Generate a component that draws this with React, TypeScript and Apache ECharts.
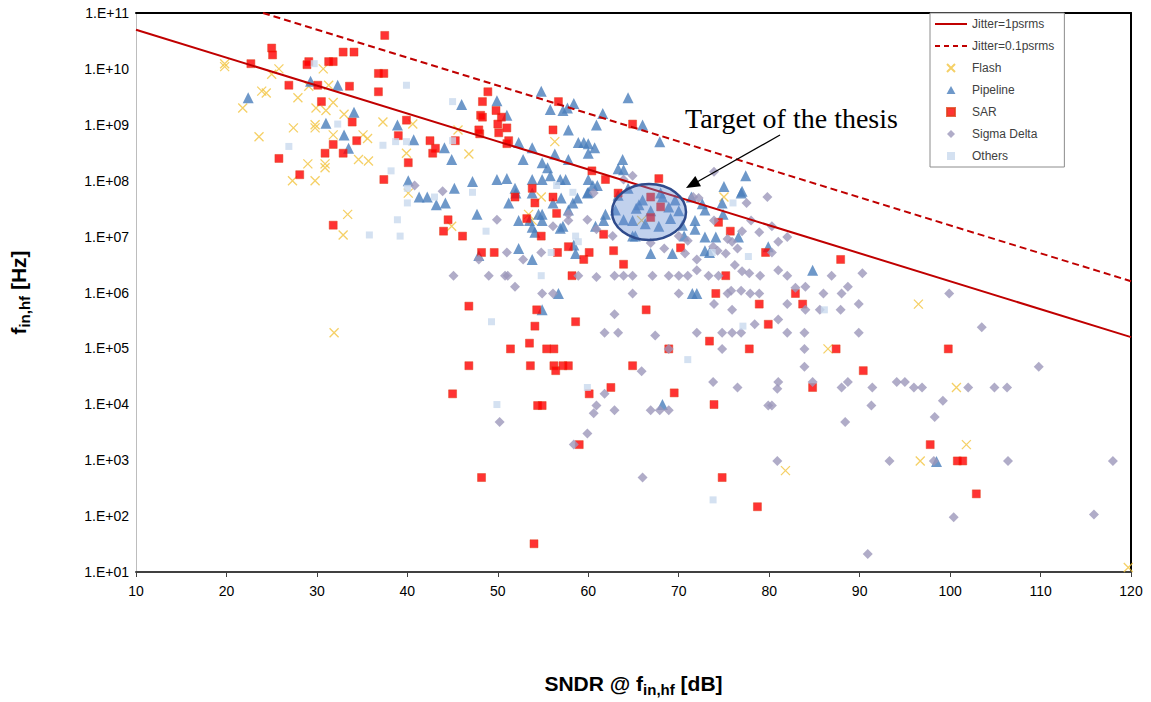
import React, { useEffect, useRef } from "react";
import * as echarts from "echarts";

// [SNDR dB, f_in,hf Hz]
const JITTER_1PS: [number, number][] = [[10, 5.03e10], [120, 1.59e5]];
const JITTER_01PS: [number, number][] = [[24.04, 1e11], [120, 1.59e6]];

const FLASH: [number, number][] = [
  [19.8, 1.24e10], [19.8, 1.1e10], [23.9, 4.0e9], [24.4, 3.7e9], [21.8, 2.0e9], [25.8, 1.0e10],
  [25.0, 8.0e9], [27.9, 3.05e9], [29.9, 2.0e9], [31.0, 1.8e9], [31.8, 2.5e9], [33.0, 1.54e9],
  [23.6, 6.1e8], [27.4, 8.8e8], [29.8, 1.0e9], [29.8, 8.8e8], [31.8, 6.6e8], [35.1, 6.6e8],
  [35.6, 5.7e8], [37.3, 1.12e9], [29.0, 2.0e8], [30.9, 2.0e8], [30.9, 1.7e8], [34.6, 2.4e8],
  [35.7, 2.25e8], [27.3, 1.0e8], [29.8, 1.0e8], [30.7, 1.0e10], [31.3, 5.1e9], [29.1, 4.9e9],
  [40.6, 1.03e9], [39.9, 3.1e8], [46.8, 3.0e8], [45.6, 8.1e8], [56.3, 5.0e8], [33.4, 2.5e7],
  [32.9, 1.07e7], [31.9, 1.9e5], [40.1, 6.0e7], [44.9, 1.53e7], [53.4, 2.5e7], [53.8, 1.95e7],
  [54.8, 5.1e7], [75.0, 5.1e7], [65.9, 1.95e7], [86.5, 9.8e4], [96.5, 6.2e5], [81.8, 650],
  [100.7, 2.0e4], [101.8, 1.9e3], [96.7, 970], [119.7, 12],
];

const PIPELINE: [number, number][] = [
  [22.4, 3.05e9], [29.3, 6.0e9], [32.3, 5.1e9], [34.1, 1.67e9], [31.0, 1.07e9], [33.0, 6.6e8],
  [33.5, 3.8e8], [54.8, 4.0e9], [46.0, 2.3e9], [49.9, 2.7e9], [51.0, 1.48e9], [55.8, 1.88e9],
  [57.2, 1.8e9], [57.7, 2.0e9], [58.4, 2.4e9], [61.6, 1.6e9], [60.9, 9.9e8], [57.8, 8.1e8],
  [38.9, 9.9e8], [40.7, 5.4e8], [44.1, 3.9e8], [44.9, 2.4e8], [52.3, 4.8e8], [53.8, 3.9e8],
  [52.8, 2.4e8], [54.9, 2.1e8], [55.5, 1.7e8], [55.8, 1.23e8], [56.3, 3.0e8], [57.8, 2.4e8],
  [58.9, 4.8e8], [59.5, 4.8e8], [60.0, 4.6e8], [60.7, 3.9e8], [60.0, 3.1e8], [63.8, 2.4e8],
  [63.3, 1.63e8], [63.9, 1.57e8], [40.1, 1.0e8], [45.2, 7.3e7], [47.2, 9.7e7], [49.9, 1.05e8],
  [51.0, 1.09e8], [51.9, 7.3e7], [53.8, 1.05e8], [54.9, 1.05e8], [56.9, 1.05e8], [57.5, 1.05e8],
  [60.0, 1.05e8], [60.5, 8.2e7], [61.0, 8.2e7], [60.0, 6.2e7], [66.0, 9.9e8], [67.9, 5.0e8],
  [77.4, 1.23e8], [75.0, 7.9e7], [77.0, 6.5e7], [64.4, 3.05e9], [41.3, 5.1e7], [42.2, 5.1e7],
  [43.2, 3.7e7], [44.2, 4.0e7], [47.7, 2.5e7], [51.2, 4.0e7], [52.3, 1.95e7], [53.5, 1.95e7],
  [53.8, 1.47e7], [54.1, 1.2e7], [54.5, 2.5e7], [54.9, 2.5e7], [54.9, 1.95e7], [56.1, 4.0e7],
  [57.0, 4.9e7], [57.8, 3.0e7], [58.3, 4.0e7], [58.8, 4.9e7], [57.2, 1.53e7], [56.9, 1.41e7],
  [59.9, 6.0e7], [53.8, 6.0e7], [52.0, 6.0e7], [52.3, 6.1e6], [53.8, 3.9e6], [47.9, 4.6e6],
  [58.4, 7.1e6], [58.6, 5.0e6], [56.7, 9.6e5], [54.9, 4.9e5], [61.9, 2.5e7], [60.8, 1.53e7],
  [61.7, 1.95e7], [63.0, 3.0e7], [64.9, 1.95e7], [64.9, 1.02e7], [66.0, 4.5e7], [68.2, 5.1e7],
  [69.6, 4.5e7], [70.0, 2.9e7], [71.4, 5.1e7], [72.9, 3.0e7], [72.6, 3.85e7], [74.8, 4.0e7],
  [74.9, 2.5e7], [76.9, 6.0e7], [71.8, 1.95e7], [71.8, 1.36e7], [70.4, 1.6e7], [70.6, 1.02e7],
  [72.9, 9.8e6], [74.1, 9.8e6], [76.6, 9.8e6], [79.9, 6.6e6], [66.9, 5.0e6], [69.3, 5.0e6],
  [72.9, 5.6e6], [73.4, 5.2e6], [65.2, 1.02e7], [84.8, 2.5e6], [71.5, 9.6e5], [72.0, 9.6e5],
  [63.3, 5.5e7], [64.4, 7.3e7], [65.6, 3.7e7], [66.9, 2.9e7], [68.0, 6.0e7], [68.9, 3.4e7],
  [63.9, 2.0e7], [66.3, 1.7e7], [67.8, 1.53e7], [69.1, 2.1e7], [65.3, 3.2e7], [68.2, 9.9e3],
  [98.5, 950],
];

const SAR: [number, number][] = [
  [25.0, 2.36e10], [25.1, 1.78e10], [22.7, 1.24e10], [29.1, 1.35e10], [28.9, 1.19e10], [31.3, 1.35e10],
  [31.8, 1.35e10], [32.9, 2.0e10], [34.1, 2.0e10], [37.5, 3.97e10], [36.8, 8.3e9], [37.4, 8.3e9],
  [36.8, 3.9e9], [26.9, 5.1e9], [30.1, 5.1e9], [33.6, 4.9e9], [30.5, 2.6e9], [33.9, 1.12e9],
  [34.4, 5.2e8], [31.8, 4.45e8], [30.9, 3.1e8], [32.9, 3.1e8], [25.8, 2.5e8], [28.1, 1.28e8],
  [37.4, 1.05e8], [48.9, 3.9e9], [48.3, 2.6e9], [48.1, 1.48e9], [48.3, 1.37e9], [49.8, 1.8e9],
  [50.4, 1.37e9], [50.0, 1.03e9], [51.0, 8.8e8], [50.1, 7.2e8], [48.0, 6.9e8], [47.9, 8.1e8],
  [51.2, 5.2e8], [51.0, 4.6e8], [56.1, 8.1e8], [56.7, 2.6e9], [39.9, 1.21e9], [39.0, 6.4e8],
  [42.5, 5.2e8], [43.1, 3.8e8], [42.8, 3.1e8], [45.3, 5.2e8], [40.1, 2.1e8], [60.4, 1.5e8],
  [61.9, 1.05e8], [64.9, 1.03e9], [53.8, 7.3e7], [67.8, 1.09e8], [31.8, 1.6e7], [51.9, 5.1e7],
  [54.1, 4.0e7], [56.1, 5.1e7], [53.2, 2.1e7], [56.5, 2.6e7], [54.8, 1.02e7], [44.5, 2.0e7],
  [44.0, 1.25e7], [46.1, 1.02e7], [48.2, 5.2e6], [49.6, 5.2e6], [56.6, 5.2e6], [57.8, 6.6e6],
  [59.5, 3.9e6], [60.1, 5.2e6], [61.7, 1.1e7], [62.8, 5.6e6], [63.9, 3.2e6], [58.2, 2.0e6],
  [46.8, 5.7e5], [54.3, 4.9e5], [58.6, 3.0e5], [54.1, 2.5e5], [53.5, 1.24e5], [51.4, 9.8e4],
  [55.4, 9.8e4], [56.2, 9.8e4], [46.8, 4.9e4], [53.6, 4.9e4], [56.2, 4.9e4], [57.2, 4.9e4],
  [57.8, 4.9e4], [56.4, 4.0e4], [64.9, 4.9e4], [63.3, 6.0e7], [66.9, 5.1e7], [68.0, 3.4e7],
  [66.9, 2.2e7], [74.4, 1.8e7], [75.7, 1.25e7], [70.2, 6.3e6], [79.6, 5.2e6], [87.9, 3.9e6],
  [75.2, 2.0e6], [74.1, 9.6e5], [82.9, 9.6e5], [78.9, 6.2e5], [83.7, 6.2e5], [66.4, 4.9e5],
  [79.9, 2.7e5], [73.4, 1.35e5], [68.9, 9.8e4], [77.8, 9.8e4], [87.4, 9.8e4], [90.4, 4.0e4],
  [99.8, 9.8e4], [45.0, 1.54e4], [54.4, 9.5e3], [54.9, 9.5e3], [60.1, 1.54e4], [62.5, 2.0e4],
  [59.0, 1.9e3], [48.2, 490], [54.0, 32], [69.5, 1.6e4], [73.9, 9.9e3], [84.8, 2.0e4],
  [74.8, 490], [78.7, 147], [97.8, 1.9e3], [100.8, 970], [101.4, 970], [102.9, 250],
];

const SIGMA_DELTA: [number, number][] = [
  [40.8, 8.2e7], [43.9, 6.5e7], [63.9, 1.05e8], [64.9, 1.23e8], [73.9, 1.45e8], [49.9, 2.0e7],
  [56.1, 1.53e7], [57.8, 2.5e7], [57.8, 1.95e7], [59.9, 2.0e7], [60.6, 6.0e7], [52.8, 3.9e6],
  [51.0, 5.2e6], [54.8, 5.2e6], [47.9, 3.9e6], [45.1, 2.0e6], [49.0, 2.0e6], [50.8, 2.0e6],
  [51.1, 2.0e6], [51.9, 1.27e6], [54.9, 9.6e5], [56.1, 9.6e5], [58.9, 2.0e6], [60.9, 1.9e6],
  [62.9, 2.0e6], [63.9, 2.0e6], [64.9, 2.0e6], [64.9, 9.6e5], [62.9, 4.1e5], [61.8, 1.9e5],
  [63.3, 1.9e5], [60.9, 1.36e7], [62.7, 1.02e7], [79.8, 5.1e7], [77.5, 4.0e7], [71.6, 5.1e7],
  [72.2, 4.9e7], [73.9, 1.95e7], [78.0, 1.95e7], [80.3, 1.53e7], [77.0, 1.25e7], [78.9, 1.2e7],
  [82.0, 9.8e6], [81.0, 8.1e6], [75.4, 9.1e6], [75.9, 8.1e6], [70.0, 1.02e7], [71.0, 8.4e6],
  [66.9, 7.7e6], [68.4, 6.1e6], [70.7, 5.0e6], [73.8, 6.6e6], [74.3, 5.6e6], [75.2, 5.0e6],
  [76.5, 6.1e6], [80.3, 5.2e6], [72.0, 3.9e6], [76.2, 3.1e6], [77.0, 2.4e6], [77.8, 2.2e6],
  [72.0, 2.5e6], [81.0, 2.5e6], [82.0, 2.0e6], [67.1, 2.0e6], [68.9, 2.0e6], [70.0, 2.0e6],
  [71.0, 2.0e6], [73.3, 2.0e6], [74.4, 2.0e6], [79.0, 2.0e6], [86.9, 2.0e6], [90.3, 2.2e6],
  [82.9, 1.22e6], [84.0, 1.27e6], [88.7, 1.27e6], [70.0, 9.6e5], [75.4, 9.6e5], [75.8, 1.08e6],
  [76.9, 1.08e6], [77.9, 9.6e5], [78.9, 9.6e5], [86.0, 9.6e5], [88.0, 9.6e5], [73.9, 6.2e5],
  [75.9, 4.9e5], [82.0, 6.2e5], [84.0, 4.9e5], [85.6, 4.9e5], [87.9, 4.9e5], [89.9, 6.2e5],
  [81.0, 3.3e5], [78.4, 2.7e5], [72.0, 1.9e5], [74.8, 1.9e5], [75.9, 1.9e5], [76.9, 1.9e5],
  [82.0, 1.9e5], [83.9, 1.9e5], [89.9, 1.9e5], [67.4, 1.7e5], [68.9, 9.8e4], [74.8, 9.8e4],
  [83.9, 9.8e4], [83.9, 4.7e4], [65.9, 3.9e4], [73.8, 2.5e4], [81.0, 2.5e4], [84.8, 2.5e4],
  [88.7, 2.5e4], [99.9, 9.6e5], [103.5, 2.4e5], [109.8, 4.7e4], [94.1, 2.5e4], [95.0, 2.5e4],
  [50.2, 4.8e3], [61.8, 1.54e4], [60.9, 9.5e3], [60.6, 6.9e3], [62.9, 7.8e3], [59.9, 3.0e3],
  [58.4, 1.9e3], [76.5, 2.0e4], [80.9, 1.9e4], [88.0, 2.0e4], [91.4, 2.0e4], [91.3, 9.5e3],
  [88.4, 4.8e3], [66.9, 7.8e3], [67.9, 7.8e3], [68.9, 7.8e3], [79.9, 9.5e3], [80.3, 9.5e3],
  [80.9, 970], [66.0, 490], [90.9, 21], [96.0, 2.0e4], [96.9, 2.0e4], [102.0, 2.0e4],
  [104.9, 2.0e4], [106.3, 2.0e4], [99.2, 1.16e4], [98.3, 5.9e3], [93.3, 970], [98.2, 970],
  [106.4, 970], [118.0, 970], [100.4, 95], [115.9, 107],
];

const OTHERS: [number, number][] = [
  [29.7, 1.24e10], [32.3, 1.03e9], [26.9, 4.1e8], [37.3, 4.3e8], [39.9, 5.1e9], [45.0, 2.6e9],
  [38.7, 5.0e8], [39.9, 5.0e8], [45.0, 5.2e8], [38.2, 1.5e8], [40.0, 7.3e7], [47.2, 6.2e7],
  [56.5, 8.2e7], [58.3, 6.2e7], [35.8, 1.07e7], [38.9, 2.0e7], [39.2, 1.02e7], [40.0, 4.0e7],
  [43.0, 5.1e7], [48.7, 1.25e7], [54.8, 2.0e6], [55.9, 5.2e6], [58.6, 1.02e7], [58.9, 8.1e6],
  [49.3, 3.0e5], [76.0, 4.0e7], [77.7, 4.4e6], [73.7, 5.2e6], [86.1, 4.9e5], [77.1, 2.5e5],
  [71.0, 6.3e4], [49.9, 9.9e3], [59.9, 2.0e4], [73.8, 195],
];

const X_RANGE = [10, 120];
const Y_RANGE = [10, 1e11];

const SANS = "'Liberation Sans', Arial, sans-serif";
const SERIF = "'Liberation Serif', 'Times New Roman', serif";

const ICON_SOLID = "path://M0,0H32V2H0Z";
const ICON_DASH = "path://M0,0H5V2H0Z M9,0H14V2H9Z M18,0H23V2H18Z M27,0H32V2H27Z";
const ICON_CROSS = "path://M0,0L10,10M0,10L10,0";
const ICON_TRI = "path://M5,0L10,9L0,9Z";
const ICON_SQ = "path://M0,0H10V10H0Z";
const ICON_DIA = "path://M5,0L10,5L5,10L0,5Z";

export default function App() {
  const ref = useRef<HTMLDivElement>(null);
  useEffect(() => {
    const chart = echarts.init(ref.current!, null, { renderer: "svg" });
    const hidden = { show: false };
    const yFmt = (v: number) => {
      const e = Math.round(Math.log10(v));
      return "1.E+" + String(e).padStart(2, "0");
    };
    const titleRich = {
      a: { fontSize: 21, fontWeight: "bold", fontFamily: SANS, color: "#000", lineHeight: 27 },
      b: { fontSize: 15, fontWeight: "bold", fontFamily: SANS, color: "#000", lineHeight: 12, verticalAlign: "bottom" },
    };
    const option: any = {
      animation: false,
      backgroundColor: "#ffffff",
      grid: { left: 135, top: 13, right: 20, bottom: 115 },
      legend: {
        left: 930,
        top: 13,
        orient: "vertical",
        padding: [4, 10, 4, 5],
        itemWidth: 32,
        itemHeight: 8,
        itemGap: 8,
        symbolKeepAspect: true,
        borderColor: "#8c8c8c",
        borderWidth: 1,
        backgroundColor: "#ffffff",
        textStyle: { fontSize: 12, color: "#404040", fontFamily: SANS, lineHeight: 14 },
        data: [
          { name: "Jitter=1psrms", icon: ICON_SOLID, itemStyle: { color: "#c00000", borderWidth: 0 } },
          { name: "Jitter=0.1psrms", icon: ICON_DASH, itemStyle: { color: "#c00000", borderWidth: 0 } },
          { name: "Flash", icon: ICON_CROSS },
          { name: "Pipeline", icon: ICON_TRI },
          { name: "SAR", icon: ICON_SQ },
          { name: "Sigma Delta", icon: ICON_DIA },
          { name: "Others", icon: ICON_SQ },
        ],
      },
      xAxis: [
        {
          type: "value",
          min: X_RANGE[0],
          max: X_RANGE[1],
          interval: 10,
          position: "bottom",
          axisLine: { show: true, lineStyle: { color: "#404040", width: 2 } },
          axisTick: { show: true, length: 5, lineStyle: { color: "#404040", width: 1 } },
          axisLabel: { color: "#000", fontSize: 14, fontFamily: SANS, margin: 12 },
          splitLine: hidden,
          name: "{a|SNDR @ f}{b|in,hf}{a| [dB]}",
          nameLocation: "middle",
          nameGap: 98,
          nameTextStyle: { rich: titleRich },
        },
        {
          type: "value",
          min: X_RANGE[0],
          max: X_RANGE[1],
          position: "top",
          axisLine: { show: true, lineStyle: { color: "#000", width: 2 } },
          axisTick: hidden,
          axisLabel: hidden,
          splitLine: hidden,
        },
      ],
      yAxis: [
        {
          type: "log",
          logBase: 10,
          min: Y_RANGE[0],
          max: Y_RANGE[1],
          interval: 1,
          axisLine: { show: true, lineStyle: { color: "#bdbdbd", width: 1 } },
          axisTick: hidden,
          axisLabel: { color: "#000", fontSize: 14, fontFamily: SANS, margin: 7, formatter: yFmt },
          splitLine: hidden,
          name: "{a|f}{b|in,hf}{a| [Hz]}",
          nameLocation: "middle",
          nameGap: 104,
          nameRotate: 90,
          nameTextStyle: { rich: titleRich },
        },
        {
          type: "log",
          logBase: 10,
          min: Y_RANGE[0],
          max: Y_RANGE[1],
          position: "right",
          axisLine: { show: true, lineStyle: { color: "#000", width: 2 } },
          axisTick: hidden,
          axisLabel: hidden,
          splitLine: hidden,
        },
      ],
      series: [
        {
          name: "Jitter=1psrms",
          type: "line",
          data: JITTER_1PS,
          symbol: "none",
          lineStyle: { color: "#c00000", width: 2 },
          itemStyle: { color: "#c00000" },
        },
        {
          name: "Jitter=0.1psrms",
          type: "line",
          data: JITTER_01PS,
          symbol: "none",
          lineStyle: { color: "#c00000", width: 2, type: [7, 4] },
          itemStyle: { color: "#c00000" },
        },
        {
          name: "Flash",
          type: "scatter",
          data: FLASH,
          symbol: ICON_CROSS,
          symbolSize: 9,
          itemStyle: { color: "none", borderColor: "#F2C440", borderWidth: 1.3 },
        },
        {
          name: "Pipeline",
          type: "scatter",
          data: PIPELINE,
          symbol: "triangle",
          symbolSize: 11,
          itemStyle: { color: "#4A7EBB" },
        },
        {
          name: "SAR",
          type: "scatter",
          data: SAR,
          symbol: "rect",
          symbolSize: 8,
          itemStyle: { color: "#FF0000", borderColor: "#E0401A", borderWidth: 0.6 },
        },
        {
          name: "Sigma Delta",
          type: "scatter",
          data: SIGMA_DELTA,
          symbol: "diamond",
          symbolSize: 10,
          itemStyle: { color: "#9C97BA" },
        },
        {
          name: "Others",
          type: "scatter",
          data: OTHERS,
          symbol: "rect",
          symbolSize: 7,
          itemStyle: { color: "#C9D9EE" },
        },
      ],
      graphic: [
        {
          type: "ellipse",
          shape: { cx: 649, cy: 212, rx: 37, ry: 28 },
          style: { fill: "rgba(100,140,210,0.4)", stroke: "#2F4B8C", lineWidth: 2.5 },
          z: 100,
        },
        {
          type: "line",
          shape: { x1: 780, y1: 135, x2: 697, y2: 182 },
          style: { stroke: "#000", lineWidth: 1.3 },
          z: 100,
        },
        {
          type: "polygon",
          shape: { points: [[686, 188], [701, 186.3], [695.3, 175.9]] },
          style: { fill: "#000" },
          z: 100,
        },
        {
          type: "text",
          x: 685,
          y: 118,
          style: {
            text: "Target of the thesis",
            font: "28px " + SERIF,
            fill: "#000",
            verticalAlign: "middle",
            align: "left",
          },
          z: 100,
        },
      ],
    };
    chart.setOption(option);
    return () => chart.dispose();
  }, []);
  return (
    <div
      ref={ref}
      style={{ position: "absolute", left: 0, top: 0, width: 1151, height: 702, background: "#fff" }}
    />
  );
}
